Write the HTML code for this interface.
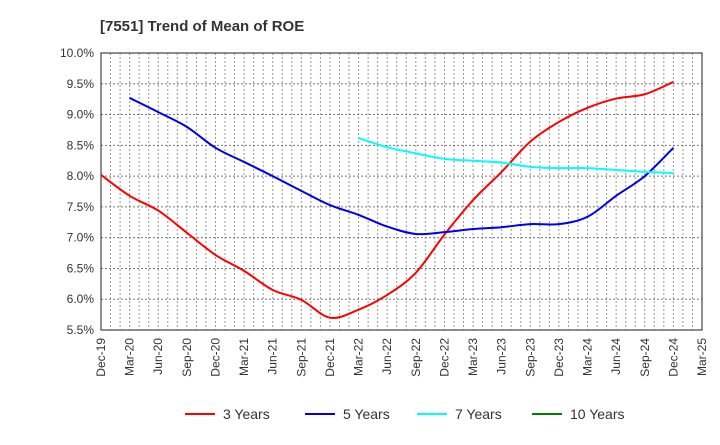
<!DOCTYPE html>
<html><head><meta charset="utf-8"><style>
body{margin:0;background:#fff;font-family:"Liberation Sans",sans-serif}
svg text{font-family:"Liberation Sans",sans-serif;fill:#333}
</style></head><body>
<svg id="chart" width="720" height="440" viewBox="0 0 720 440" xmlns="http://www.w3.org/2000/svg">
<text x="100" y="31" font-size="15" font-weight="bold" style="fill:#333">[7551]  Trend of Mean of ROE</text>
<g id="grid"></g>
<g id="axes"></g>
<g id="series"></g>
<g id="legend"></g>
</svg>
<script>
const xLabels=["Dec-19","Mar-20","Jun-20","Sep-20","Dec-20","Mar-21","Jun-21","Sep-21","Dec-21","Mar-22","Jun-22","Sep-22","Dec-22","Mar-23","Jun-23","Sep-23","Dec-23","Mar-24","Jun-24","Sep-24","Dec-24","Mar-25"];
const yTicks=[5.5,6.0,6.5,7.0,7.5,8.0,8.5,9.0,9.5,10.0];
const y3=[8.02,7.68,7.44,7.08,6.72,6.46,6.15,5.99,5.70,5.83,6.07,6.43,7.05,7.61,8.07,8.56,8.88,9.11,9.26,9.33,9.53];
const y5=[null,9.27,9.04,8.80,8.46,8.23,8.00,7.76,7.53,7.37,7.18,7.06,7.09,7.14,7.17,7.22,7.22,7.34,7.68,8.00,8.46];
const y7=[null,null,null,null,null,null,null,null,null,8.62,8.47,8.37,8.28,8.25,8.22,8.15,8.13,8.13,8.10,8.07,8.05];
const y10=[];
const L=101,R=702,T=53,B=330,NS="http://www.w3.org/2000/svg";
const xs=i=>L+(R-L)*i/(xLabels.length-1);
const ys=v=>B-(v-5.5)/(10-5.5)*(B-T);
function mk(tag,attrs,parent){const e=document.createElementNS(NS,tag);for(const k in attrs)e.setAttribute(k,attrs[k]);parent.appendChild(e);return e;}
const grid=document.getElementById('grid'),axes=document.getElementById('axes'),ser=document.getElementById('series'),leg=document.getElementById('legend');
for(let m=1;m<(xLabels.length-1)*3;m++){const x=L+(R-L)*m/((xLabels.length-1)*3);
const g=mk('line',{x1:x,x2:x,y1:T,y2:B,stroke:'#999','stroke-dasharray':'2,2','stroke-width':1},grid);

}
yTicks.forEach(v=>{const y=ys(v);
const g=mk('line',{x1:L,x2:R,y1:y,y2:y,stroke:'#777','stroke-dasharray':'2,2','stroke-width':1},grid);


const t=mk('text',{x:L-7,y:y+4,'text-anchor':'end','font-size':12},axes);t.textContent=v.toFixed(1)+'%';

});
xLabels.forEach((s,i)=>{const x=xs(i);
const t=mk('text',{x:x+4,y:B+8,'text-anchor':'end','font-size':12,transform:`rotate(-90 ${x+4} ${B+8})`},axes);t.textContent=s;

});
const fr=mk('rect',{x:L,y:T,width:R-L,height:B-T,fill:'none',stroke:'#444','stroke-width':1.2},axes);


function path(arr){const p=[];arr.forEach((v,i)=>{if(v!=null)p.push([xs(i),ys(v)]);});
if(!p.length)return '';let d=`M${p[0][0]},${p[0][1]}`;
for(let i=0;i<p.length-1;i++){const p0=p[i-1]||p[i],p1=p[i],p2=p[i+1],p3=p[i+2]||p2;
d+=` C${p1[0]+(p2[0]-p0[0])/6},${p1[1]+(p2[1]-p0[1])/6} ${p2[0]-(p3[0]-p1[0])/6},${p2[1]-(p3[1]-p1[1])/6} ${p2[0]},${p2[1]}`;}
return d;}
const series=[[y3,'#ff0000','3 Years','line-3-years'],[y5,'#0000ee','5 Years','line-5-years'],[y7,'#00ffff','7 Years','line-7-years'],[y10,'#008000','10 Years','line-10-years']];
series.forEach(([a,c,n,id])=>{const d=path(a);if(d){const e=mk('path',{d:d,fill:'none',stroke:c,'stroke-width':2},ser);

}});
const lx=[185,305,417,532];
series.forEach(([a,c,n],i)=>{const g=mk('g',{},leg);


mk('line',{x1:lx[i],x2:lx[i]+30,y1:414,y2:414,stroke:c,'stroke-width':2},g);
const t=mk('text',{x:lx[i]+38,y:419,'font-size':14},g);t.textContent=n;});
</script>
</body></html>
